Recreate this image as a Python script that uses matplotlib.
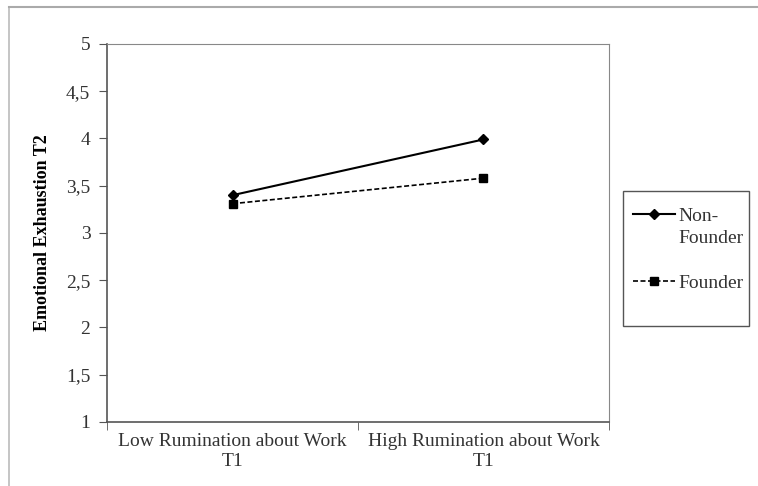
import matplotlib.pyplot as plt
from matplotlib.lines import Line2D
from matplotlib.patches import Rectangle

categories = ['Low Rumination about Work\nT1', 'High Rumination about Work\nT1']
non_founder = [3.40, 3.99]
founder = [3.31, 3.58]
yticks = [1, 1.5, 2, 2.5, 3, 3.5, 4, 4.5, 5]
ytick_labels = ['1', '1,5', '2', '2,5', '3', '3,5', '4', '4,5', '5']

plt.rcParams['font.family'] = ['Liberation Serif', 'DejaVu Serif']

W, H = 758, 486
fig = plt.figure(figsize=(W / 100, H / 100), dpi=100)
ax = fig.add_axes([0.1412, 0.1317, 0.6622, 0.7778])

x = list(range(len(categories)))
ax.plot(x, non_founder, color='black', linewidth=1.5, marker='D', markersize=5,
        label='Non-')
ax.plot(x, founder, color='black', linewidth=1.2, linestyle=(0, (3, 1.5)),
        marker='s', markersize=6, label='Founder')

ax.set_xlim(-0.5, 1.5)
ax.set_ylim(1, 5)
ax.set_yticks(yticks)
ax.set_yticklabels(ytick_labels, fontsize=14, color='#333333')
ax.set_xticks(x)
ax.set_xticklabels(categories, fontsize=14, color='#333333')
ax.tick_params(axis='x', length=0, pad=8)
ax.set_xticks([-0.5, 0.5, 1.5], minor=True)
ax.tick_params(axis='x', which='minor', length=6, direction='out', color='#555555')
ax.tick_params(axis='y', length=6, direction='out', color='#555555', pad=6)
for s in ax.spines.values():
    s.set_color('#888888')
for s in ['left', 'bottom']:
    ax.spines[s].set_color('#555555')
    ax.spines[s].set_linewidth(1.2)

ax.set_ylabel('Emotional Exhaustion T2', fontsize=13, fontweight='bold', labelpad=11)

# legend entries, box drawn separately
leg = ax.legend(loc='upper left', bbox_to_anchor=(633 / W, 1 - 207 / H),
                bbox_transform=fig.transFigure, fontsize=14, frameon=False,
                handlelength=2.15, handletextpad=0.2, labelspacing=2.55,
                borderpad=0, borderaxespad=0)
for t in leg.get_texts():
    t.set_color('#333333')

fig.canvas.draw()
bb = leg.get_texts()[0].get_window_extent()
fig.text(bb.x0 / W, (bb.y0 - 5) / H, 'Founder', fontsize=14, color='#333333',
         ha='left', va='top')

fig.add_artist(Rectangle((623 / W, 1 - 326 / H), 126 / W, 135 / H, fill=False,
                         edgecolor='#555555', linewidth=1.0, transform=fig.transFigure))

# outer frame lines
fig.add_artist(Line2D([9 / W, 9 / W], [0, 1 - 7 / H], color='#bbbbbb', linewidth=1.2))
fig.add_artist(Line2D([9 / W, 1], [1 - 7 / H, 1 - 7 / H], color='#aaaaaa', linewidth=1.5))

fig.savefig('out.png', dpi=100)
